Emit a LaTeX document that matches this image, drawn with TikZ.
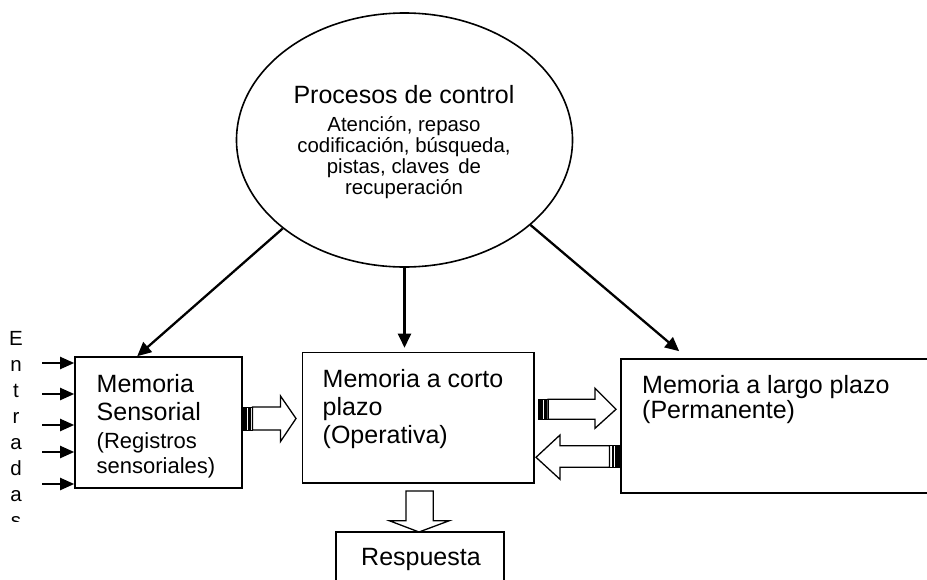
\documentclass[tikz,border=0pt]{standalone}
\usepackage{fontspec}
\setmainfont{Liberation Sans}
\usetikzlibrary{arrows.meta,shapes.geometric,calc}
\begin{document}
\begin{tikzpicture}[x=1pt,y=-1pt,
  box/.style={draw, line width=1.6pt, rectangle, inner sep=0pt},
  txt/.style={anchor=base west, inner sep=0pt, font=\fontsize{25}{28}\selectfont},
  smalltxt/.style={anchor=base west, inner sep=0pt, font=\fontsize{22}{26}\selectfont},
  elltitle/.style={anchor=base, inner sep=0pt, font=\fontsize{25}{28}\selectfont},
  ellsub/.style={anchor=base, inner sep=0pt, font=\fontsize{20.4}{22}\selectfont},
  letter/.style={anchor=base, inner sep=0pt, font=\fontsize{20.5}{22}\selectfont},
  carr/.style={line width=2.3pt, -{Triangle[length=14pt,width=13pt]}},
  inarr/.style={line width=2pt, -{Triangle[length=14pt,width=12pt]}},
  blk/.style={draw, line width=1.3pt, fill=white, line join=miter},
  stripe/.style={fill=black}
]
\useasboundingbox (0,0) rectangle (927,579);

% control ellipse
\node[draw, ellipse, line width=1.6pt, minimum width=336pt, minimum height=254pt, inner sep=0pt] (P) at (404.5,140) {};
\node[elltitle] (t1) at (404,103) {Procesos de control};
\node[ellsub] (t2) at (404,131) {Atención, repaso};
\node[ellsub] (t3) at (404,152) {codificación, búsqueda,};
\node[ellsub] (t4) at (404,173) {pistas, claves\, de};
\node[ellsub] (t5) at (404,194) {recuperación};

% boxes
\node[box, minimum width=167pt, minimum height=131pt] (S) at (158.5,422.5) {};
\node[box, minimum width=231.5pt, minimum height=130.5pt] (C) at (418.25,417.75) {};
\node[box, minimum width=314pt, minimum height=134pt] (L) at (778,426) {};
\node[box, minimum width=168pt, minimum height=58pt] (R) at (420,561) {};

% box texts
\node[txt] (s1) at (96.5,392) {Memoria};
\node[txt] (s2) at (96.5,420) {Sensorial};
\node[smalltxt] (s3) at (96.5,448) {(Registros};
\node[smalltxt] (s4) at (96.5,473) {sensoriales)};

\node[txt] (c1) at (322.5,387) {Memoria a corto};
\node[txt] (c2) at (322.5,415) {plazo};
\node[txt] (c3) at (322.5,443) {(Operativa)};

\node[txt] (l1) at (642,393) {Memoria a largo plazo};
\node[txt] (l2) at (642,418) {(Permanente)};

\node[txt, anchor=base] (r1) at (421,565) {Respuesta};

% Entradas
\node[letter] (e1) at (16,345) {E};
\node[letter] (e2) at (16,371) {n};
\node[letter] (e3) at (16,397) {t};
\node[letter] (e4) at (16,423) {r};
\node[letter] (e5) at (16,449) {a};
\node[letter] (e6) at (16,475) {d};
\node[letter] (e7) at (16,501) {a};
\begin{scope}
  \clip (0,505) rectangle (40,521);
  \node[letter] (e8) at (16,527) {s};
\end{scope}

% input arrows
\foreach \yy in {363,394,425,452,484}
  \draw[inarr] (42,\yy) -- (S.west |- 0,\yy);

% control arrows
\draw[carr] (P.216.8) -- ([xshift=63pt]S.north west);
\draw[carr] (P.south) -- ($(P.south |- C.north)+(0,-4)$);
\draw[carr] (P.-34.4) -- ([xshift=59pt,yshift=7pt]L.north west);

% block arrow: sensorial -> corto
\draw[blk] (252.5,407) -- (280.5,407) -- (280.5,396) -- (296,418.5) -- (280.5,441.5) -- (280.5,430) -- (252.5,430) -- cycle;
\draw[line width=1pt] (242,407) rectangle (252.5,430);
\fill[stripe] (242,407) rectangle (247,430);
\fill[stripe] (248.3,407) rectangle (251.3,430);

% block arrow: corto -> largo
\draw[blk] (548,399.3) -- (595,399.3) -- (595,388.3) -- (616,409.3) -- (595,428.3) -- (595,419.3) -- (548,419.3) -- cycle;
\draw[line width=1pt] (538,399.3) rectangle (548,419.3);
\fill[stripe] (538,399.3) rectangle (542.5,419.3);
\fill[stripe] (543.8,399.3) rectangle (546.5,419.3);

% block arrow: largo -> corto
\draw[blk] (609.5,445.7) -- (560,445.7) -- (560,435) -- (536,457.3) -- (560,479.3) -- (560,467.3) -- (609.5,467.3) -- cycle;
\draw[line width=1pt] (609.5,445.7) rectangle (620,467.3);
\fill[stripe] (611.5,445.7) rectangle (614,467.3);
\fill[stripe] (615.3,445.7) rectangle (620,467.3);

% block arrow: corto -> respuesta
\draw[blk] (406,491) -- (433.3,491) -- (433.3,520.7) -- (449.3,520.7) -- (419,532) -- (389.3,520.7) -- (406,520.7) -- cycle;
\end{tikzpicture}
\end{document}
